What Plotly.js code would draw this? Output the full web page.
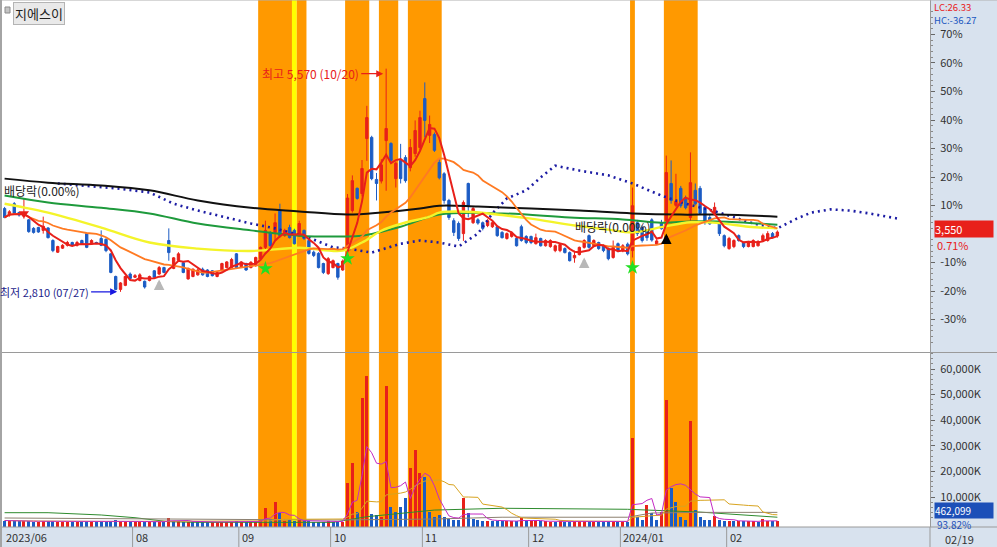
<!DOCTYPE html>
<html><head><meta charset="utf-8">
<script src="https://cdn.plot.ly/plotly-3.0.1.min.js"></script>
<style>html,body{margin:0;padding:0;background:#fff;overflow:hidden}#chart{width:997px;height:547px}</style>
</head><body><div id="chart"></div>
<script>
// ---------------- DATA ----------------
const stockName = '지에스이';
const monthLabels = ['2023/06','08','09','10','11','12','2024/01','02'];
const monthStartIdx = [0, 27, 49, 68, 87, 109, 128, 150];
const lastDateLabel = '02/19';
const highDateLabel = '10/20';
const lowDateLabel = '07/27';

const openP = [
3840,3760,3900,3790,3745,3700,3595,3605,3570,3600,
3445,3300,3350,3385,3420,3385,3445,3530,3405,3420,
3470,3460,3280,3000,2840,2890,3030,2990,2950,2940,
2950,3070,3030,3110,3445,3100,3200,3170,2970,3000,
3020,3090,3080,3070,3000,3075,3110,3110,3280,3120,
3160,3110,3135,3220,3360,3545,3545,3815,3505,3605,
3570,3505,3570,3445,3300,3285,3160,3035,3110,3160,
3080,3320,3815,4090,4025,4705,4720,4200,4180,4680,
4645,4210,4435,4470,4345,4520,4595,5200,4745,4755,
4410,4270,3940,3690,3655,3530,4150,3665,3700,3665,
3630,3615,3615,3545,3470,3495,3470,3615,3495,3495,
3405,3470,3380,3370,3320,3320,3345,3295,3230,3270,
3360,3505,3380,3420,3380,3345,3235,3405,3320,3400,
3320,3665,3605,3560,3700,3400,3665,3690,4150,3880,
4090,3975,3730,4065,4090,3855,3730,3780,3665,3505,
3345,3370,3505,3420,3370,3370,3380,3445,3445,3530,
3500];
const highP = [
3860,3820,3920,3800,3960,3710,3610,3615,3740,3610,
3460,3380,3400,3440,3430,3440,3455,3540,3460,3430,
3570,3470,3290,3010,2930,3010,3050,3030,3040,2950,
3010,3080,3130,3120,3595,3240,3300,3180,3110,3100,
3100,3110,3090,3080,3060,3170,3190,3230,3290,3190,
3170,3190,3245,3370,3690,3560,3780,3900,3590,3640,
3590,3690,3580,3460,3320,3300,3170,3240,3210,3170,
3210,4020,4250,4100,4440,5110,4740,4280,4450,5570,
4660,4420,4640,4500,4700,4930,5050,5400,4990,4780,
4450,4290,3960,3720,3680,3940,4160,3860,3720,3680,
3710,3690,3630,3560,3545,3560,3480,3640,3510,3505,
3530,3480,3460,3460,3395,3410,3360,3310,3320,3370,
3460,3520,3460,3430,3395,3360,3445,3420,3400,3420,
4100,3700,3630,3580,3720,3460,3700,4495,4435,4270,
4120,4000,4535,4150,4120,3870,3760,3915,3680,3520,
3490,3460,3520,3430,3440,3460,3450,3530,3560,3550,
3570];
const lowP = [
3720,3740,3770,3740,3715,3540,3530,3540,3530,3470,
3300,3290,3340,3370,3375,3370,3395,3350,3390,3400,
3375,3300,3040,2830,2810,2880,2960,2980,2940,2850,
2940,2980,3020,3040,3195,3090,3190,3040,2960,2990,
3010,3010,2990,3000,2990,3060,3100,3100,3100,3110,
3070,3100,3120,3210,3320,3370,3445,3480,3490,3470,
3395,3490,3450,3270,3240,3100,3030,3020,3100,2960,
3070,3300,3790,3950,3990,4430,4190,3940,4150,4060,
4400,4100,4150,4160,4300,4480,4560,4720,4650,4540,
4200,3900,3700,3500,3440,3440,3730,3650,3640,3570,
3610,3600,3490,3470,3455,3480,3370,3430,3400,3400,
3395,3370,3370,3355,3300,3300,3285,3185,3170,3260,
3345,3345,3370,3330,3300,3200,3220,3300,3300,3260,
3235,3500,3420,3440,3430,3390,3580,3655,3900,3860,
3850,3830,3690,3880,3760,3640,3640,3760,3500,3360,
3330,3350,3430,3350,3360,3360,3370,3430,3430,3470,
3480];
const closeP = [
3730,3800,3780,3760,3790,3555,3545,3550,3620,3480,
3320,3370,3385,3420,3385,3420,3405,3360,3445,3410,
3385,3320,3050,2840,2920,3000,2975,3010,3020,2870,
3000,2990,3110,3050,3295,3230,3280,3050,3100,3090,
3080,3020,3000,3010,3050,3160,3180,3210,3110,3180,
3080,3175,3235,3360,3570,3380,3665,3505,3570,3480,
3405,3655,3470,3285,3260,3110,3050,3220,3195,2990,
3190,3970,4185,3965,4335,4965,4210,4150,4380,4830,
4435,4400,4210,4185,4595,4805,4965,4930,4880,4560,
4220,3940,3730,3545,3470,3915,3875,3840,3660,3595,
3690,3665,3505,3480,3530,3540,3380,3445,3420,3420,
3480,3380,3445,3445,3380,3395,3295,3195,3260,3360,
3445,3360,3445,3345,3320,3220,3360,3320,3380,3280,
3875,3530,3445,3480,3450,3440,3590,4285,3940,3930,
3875,3850,4160,3900,3780,3665,3650,3855,3530,3380,
3470,3445,3445,3370,3420,3445,3430,3505,3530,3480,
3550];
const volume = [
820000,650000,540000,480000,760000,610000,420000,380000,520000,450000,
690000,400000,310000,350000,290000,330000,270000,480000,360000,250000,
410000,520000,640000,880000,720000,560000,390000,300000,340000,370000,
310000,280000,360000,420000,1950000,780000,520000,430000,380000,300000,
270000,260000,280000,240000,230000,350000,320000,380000,450000,310000,
260000,290000,420000,1050000,5650000,1350000,8150000,3850000,620000,880000,
710000,1150000,520000,450000,380000,420000,360000,480000,330000,400000,
380000,15400000,23300000,4100000,48500000,57200000,3300000,3000000,2300000,53500000,
6100000,4100000,6100000,9500000,21300000,28400000,19300000,17800000,4200000,2200000,
3000000,2200000,1500000,900000,1200000,9500000,3700000,1500000,1200000,800000,
800000,750000,650000,550000,600000,500000,560000,1800000,700000,520000,
600000,450000,480000,420000,390000,450000,380000,420000,600000,500000,
520000,480000,360000,330000,300000,450000,700000,380000,420000,350000,
33000000,2200000,1200000,6900000,3700000,900000,4100000,47800000,13500000,8000000,
2200000,1200000,39700000,4900000,2200000,1200000,900000,2600000,1000000,800000,
600000,550000,500000,450000,520000,480000,430000,1400000,600000,492538,
462099];

// long moving averages (index, price)
const ma60Idx = [0,3,9,20,30,40,51,61,70,74,78,82,88,90,96,103,109,118,125,130,136,142,148,154,160];
const ma60Val = [3900,3865,3790,3605,3420,3345,3315,3355,3320,3420,3565,3650,3740,3790,3800,3760,3715,3630,3580,3545,3610,3670,3660,3615,3595];
const ma120Idx = [0,9,20,30,40,51,61,70,74,82,90,103,117,128,136,142,148,160];
const ma120Val = [4000,3915,3850,3780,3655,3570,3505,3495,3505,3615,3765,3780,3730,3705,3665,3680,3680,3640];
const ma240Idx = [0,9,20,30,40,51,61,71,78,86,90,98,109,119,130,140,148,160];
const ma240Val = [4210,4160,4125,4065,3940,3850,3805,3765,3790,3840,3875,3865,3840,3815,3780,3765,3765,3740];
const spanIdx = [11,23,30,35,40,47,51,56,63,68,71,76,82,86,90,94,96,98,101,104,108,111,114,119,125,130,136,141,148,155,160,164,167,171,175,179,185];
const spanVal = [4150,4090,4040,3900,3815,3715,3655,3595,3480,3360,3345,3295,3405,3445,3420,3370,3445,3530,3780,3965,4065,4225,4370,4310,4250,4150,4000,3900,3790,3655,3595,3715,3790,3830,3815,3780,3715];

// volume long averages
const volMaAIdx = [0,9,20,27,34,40,68,75,89,103,129,134,144,160];
const volMaAVal = [3870000,3870000,2970000,1910000,350000,100000,100000,2300000,4900000,5600000,5200000,4900000,4100000,2100000];
const volMaBIdx = [0,34,68,89,103,129,134,144,160];
const volMaBVal = [1800000,1300000,1000000,1400000,2100000,2100000,3750000,4000000,4000000];

// highlighted signal periods
const bandStart = [53,60,61,71,78,84,130,137];
const bandEnd   = [59,60,62,75,81,90,130,143];
const bandKind  = ['o','y','o','o','o','o','o','o'];

// signal markers
const starIdx = [54,71,130];       const starPrice = [3098,3222,3110];
const grayArrowIdx = [32,120];     const grayArrowPrice = [2962,3234];
const blackArrowIdx = [137];       const blackArrowPrice = [3531];
const redTriIdx = [4];             const redTriPrice = [3778];

// reference price for % scale & events
const pctBase = 3525;
const pctTicks = [-30,-20,-10,10,20,30,40,50,60,70];
const volTicks = [10000000,20000000,30000000,40000000,50000000,60000000];
const exDivIdx = [126];  const exDivPrice = [3617];
const exDivEarlyPrice = 4063;

// ---------------- BUILD ----------------
const F = 'Noto Sans CJK KR, Noto Sans, sans-serif';
const RED = '#e8201a', BLUE = '#1c5cc4';
const n = closeP.length;
const idx = closeP.map((_, i) => i);
function sma(arr, k){ return arr.map((_, i) => { const s = Math.max(0, i-k+1); let t=0; for(let j=s;j<=i;j++) t+=arr[j]; return t/(i-s+1); }); }
const ma5 = sma(closeP,5), ma20 = sma(closeP,20);
const vma5 = sma(volume,5), vma20 = sma(volume,20);
const fmt = v => Math.round(v).toLocaleString('en-US');

const PRICE_RANGE = [2066, 6419];
const VOL_RANGE = [-1720000, 66250000];
const PH = 527, PW = 927;

const volColors = volume.map((_, i) => (i === 0 ? closeP[0] >= openP[0] : closeP[i] >= closeP[i-1]) ? RED : BLUE);

const traces = [];
traces.push({type:'candlestick', x: idx, open: openP, high: highP, low: lowP, close: closeP,
  increasing:{line:{color:RED,width:1}, fillcolor:RED}, decreasing:{line:{color:BLUE,width:1}, fillcolor:BLUE},
  whiskerwidth:0, hoverinfo:'skip', xaxis:'x', yaxis:'y'});
traces.push({type:'scatter', mode:'lines', x: spanIdx, y: spanVal, line:{color:'#1c1ca4', width:2.6, dash:'2px,4px'}, xaxis:'x', yaxis:'y'});
traces.push({type:'scatter', mode:'lines', x: ma240Idx, y: ma240Val, line:{color:'#111111', width:2, shape:'spline'}, xaxis:'x', yaxis:'y'});
traces.push({type:'scatter', mode:'lines', x: ma120Idx, y: ma120Val, line:{color:'#1e9a3c', width:2, shape:'spline'}, xaxis:'x', yaxis:'y'});
traces.push({type:'scatter', mode:'lines', x: ma60Idx, y: ma60Val, line:{color:'#f4f42a', width:2.4, shape:'spline'}, xaxis:'x', yaxis:'y'});
traces.push({type:'scatter', mode:'lines', x: idx, y: ma20, line:{color:'#ff7a22', width:1.8}, xaxis:'x', yaxis:'y'});
traces.push({type:'scatter', mode:'lines', x: idx, y: ma5, line:{color:RED, width:2}, xaxis:'x', yaxis:'y'});
traces.push({type:'scatter', mode:'markers', x: starIdx, y: starPrice, marker:{symbol:'star', size:11, color:'#22e022'}, xaxis:'x', yaxis:'y'});
traces.push({type:'scatter', mode:'markers', x: redTriIdx, y: redTriPrice, marker:{symbol:'triangle-down', size:9, color:RED}, xaxis:'x', yaxis:'y'});
// volume pane
traces.push({type:'bar', x: idx, y: volume.map(v => v - VOL_RANGE[0]), base: VOL_RANGE[0], width:0.62,
  marker:{color: volColors, line:{width:0}}, hoverinfo:'skip', xaxis:'x', yaxis:'y2'});
traces.push({type:'scatter', mode:'lines', x: volMaAIdx, y: volMaAVal, line:{color:'#2e8b2e', width:1}, xaxis:'x', yaxis:'y2'});
traces.push({type:'scatter', mode:'lines', x: volMaBIdx, y: volMaBVal, line:{color:'#8c8070', width:1}, xaxis:'x', yaxis:'y2'});
traces.push({type:'scatter', mode:'lines', x: idx, y: vma20, line:{color:'#d8a420', width:1}, xaxis:'x', yaxis:'y2'});
traces.push({type:'scatter', mode:'lines', x: idx, y: vma5, line:{color:'#c42ac4', width:1}, xaxis:'x', yaxis:'y2'});

// shapes
const shapes = [];
bandStart.forEach((s, k) => shapes.push({type:'rect', xref:'x', yref:'paper', x0:s-0.5, x1:bandEnd[k]+0.5, y0:0, y1:1,
  fillcolor: bandKind[k]==='y' ? '#ffff00' : '#ff9900', line:{width:0}, layer:'below'}));
const yb = -20/PH;
shapes.push({type:'rect', xref:'paper', yref:'paper', x0:1, x1:1+67/PW, y0:yb, y1:1, fillcolor:'#d8e2ee', line:{width:0}, layer:'below'});
shapes.push({type:'rect', xref:'paper', yref:'paper', x0:-3/PW, x1:1, y0:yb, y1:0, fillcolor:'#d8e2ee', line:{width:0}, layer:'below'});
shapes.push({type:'line', xref:'paper', yref:'paper', x0:-3/PW, x1:1+67/PW, y0:(PH-352.5)/PH, y1:(PH-352.5)/PH, line:{color:'#9a9a9a', width:1}});
shapes.push({type:'line', xref:'paper', yref:'paper', x0:-3/PW, x1:1+67/PW, y0:0, y1:0, line:{color:'#9a9a9a', width:1}});
shapes.push({type:'line', xref:'paper', yref:'paper', x0:-3/PW, x1:1+67/PW, y0:1, y1:1, line:{color:'#b0b0b0', width:1}});
shapes.push({type:'rect', xref:'paper', yref:'paper', x0:-3/PW, x1:-1/PW, y0:yb, y1:1, fillcolor:'#a4a4a4', line:{width:0}});
shapes.push({type:'line', xref:'paper', yref:'paper', x0:1, x1:1, y0:yb, y1:0, line:{color:'#9a9a9a', width:1}});
monthStartIdx.forEach(m => shapes.push({type:'line', xref:'x', yref:'paper', x0:m-0.5, x1:m-0.5, y0:yb, y1:0, line:{color:'#9a9a9a', width:1}}));
shapes.push({type:'rect', xref:'paper', yref:'paper', x0:2/PW, x1:7/PW, y0:(PH-13)/PH, y1:(PH-7)/PH, fillcolor:'#c4c4c4', line:{color:'#8a8a8a', width:1}});

// annotations
const ann = [];
ann.push({xref:'paper', yref:'paper', x:10/PW, y:1, xanchor:'left', yanchor:'top', yshift:-2, text:stockName, showarrow:false,
  bgcolor:'#e9e9e9', bordercolor:'#b4b4b4', borderwidth:1, borderpad:1, font:{family:F, size:13, color:'#222'}});
const hiVal = Math.max(...highP), hiIdx = highP.indexOf(hiVal);
const loVal = Math.min(...lowP), loIdx = lowP.indexOf(loVal);
ann.push({xref:'x', yref:'y', x:hiIdx-0.4, y:hiVal, yshift:-5, text:`최고 ${fmt(hiVal)} (${highDateLabel})`, showarrow:true,
  ax:-23, ay:0, xanchor:'right', arrowcolor:RED, arrowhead:2, arrowsize:1, arrowwidth:1.4, standoff:1, font:{family:F, size:12, color:RED}});
ann.push({xref:'x', yref:'y', x:loIdx-0.5, y:loVal, text:`최저 ${fmt(loVal)} (${lowDateLabel})`, showarrow:true,
  ax:-27, ay:0, xanchor:'right', arrowcolor:'#1818e0', arrowhead:2, arrowsize:1, arrowwidth:1.4, standoff:1, font:{family:F, size:11, color:'#1c1c8a'}});
// gray / black signal arrows (block arrows)
grayArrowIdx.forEach((x, k) => ann.push({xref:'x', yref:'y', x:x, y:grayArrowPrice[k], text:'', showarrow:true, ax:0, ay:12,
  arrowcolor:'#b8b8b8', arrowhead:2, arrowsize:0.7, arrowwidth:3, standoff:0, startstandoff:0}));
blackArrowIdx.forEach((x, k) => ann.push({xref:'x', yref:'y', x:x, y:blackArrowPrice[k], text:'', showarrow:true, ax:0, ay:12,
  arrowcolor:'#000000', arrowhead:2, arrowsize:0.7, arrowwidth:3, standoff:0, startstandoff:0}));
ann.push({xref:'paper', yref:'y', x:0, y:exDivEarlyPrice, xanchor:'left', xshift:-1, text:'배당락(0.00%)', showarrow:false, font:{family:F, size:12, color:'#222'}});
exDivIdx.forEach((x, k) => ann.push({xref:'x', yref:'y', x:x, y:exDivPrice[k], text:'배당락(0.00%)', showarrow:false, xanchor:'center',
  font:{family:F, size:12, color:'#222'}}));
monthLabels.forEach((t, k) => ann.push({xref: k===0 ? 'paper' : 'x', yref:'paper', x: k===0 ? 0 : monthStartIdx[k]-0.5, y:-10/PH, xanchor:'left', yanchor:'middle', xshift:1,
  text:t, showarrow:false, font:{family:F, size:11, color:'#333'}}));
ann.push({xref:'paper', yref:'paper', x:1, y:-12/PH, xanchor:'left', yanchor:'middle', xshift:14, borderpad:0, text:lastDateLabel, showarrow:false, font:{family:F, size:11, color:'#333'}});
const last = closeP[n-1];
const lc = ((last/loVal - 1)*100).toFixed(2), hc = ((last/hiVal - 1)*100).toFixed(2);
ann.push({xref:'paper', yref:'paper', x:1, y:(PH-6.7)/PH, xanchor:'left', yanchor:'middle', xshift:3, borderpad:0, text:`LC:${lc}`, showarrow:false, font:{family:F, size:9.5, color:RED}});
ann.push({xref:'paper', yref:'paper', x:1, y:(PH-19.6)/PH, xanchor:'left', yanchor:'middle', xshift:3, borderpad:0, text:`HC:${hc}`, showarrow:false, font:{family:F, size:9.5, color:'#1a56c0'}});
ann.push({xref:'paper', yref:'y', x:1, y:last, xanchor:'left', yanchor:'middle', xshift:4, yshift:3, text:fmt(last), showarrow:false, width:58, align:'left',
  bgcolor:'#e8201a', borderpad:0, font:{family:F, size:11, color:'#fff'}});
ann.push({xref:'paper', yref:'y', x:1, y:last, xanchor:'left', yanchor:'middle', xshift:6, yshift:-13, borderpad:0, text:((last/pctBase-1)*100).toFixed(2)+'%', showarrow:false,
  font:{family:F, size:11, color:RED}});
const lastVol = volume[n-1], volRatio = (lastVol/volume[n-2]*100).toFixed(2);
ann.push({xref:'paper', yref:'paper', x:1, y:(PH-510.5)/PH, xanchor:'left', yanchor:'middle', xshift:4, text:fmt(lastVol), showarrow:false, width:58, align:'left',
  bgcolor:'#1c4fb8', borderpad:0, font:{family:F, size:10, color:'#fff'}});
ann.push({xref:'paper', yref:'paper', x:1, y:(PH-524)/PH, xanchor:'left', yanchor:'middle', xshift:6, borderpad:0, text:volRatio+'%', showarrow:false,
  font:{family:F, size:10, color:'#1c4fb8'}});

const minorP = []; for (let p=-40; p<=80; p+=2) if (p%10!==0) minorP.push(pctBase*(1+p/100));
const minorV = []; for (let v=0; v<=66000000; v+=2000000) if (v%10000000!==0) minorV.push(v);

const axisFont = {family:F, size:11, color:'#333'};
const layout = {
  width:997, height:547, margin:{l:3, r:67, t:0, b:20},
  paper_bgcolor:'#ffffff', plot_bgcolor:'#ffffff', showlegend:false, bargap:0,
  xaxis:{range:[-0.33, 191.6], showticklabels:false, showgrid:false, zeroline:false, showline:false, ticks:'', anchor:'y2', rangeslider:{visible:false}, fixedrange:true},
  yaxis:{domain:[(PH-352)/PH, 1], range:PRICE_RANGE, side:'right', anchor:'x', tickmode:'array',
    tickvals:pctTicks.map(p => pctBase*(1+p/100)), ticktext:pctTicks.map(p => p+'%'),
    ticks:'outside', ticklen:4, tickcolor:'#666', showline:true, linecolor:'#9a9a9a', showgrid:false, zeroline:false, tickfont:axisFont, ticklabelstandoff:3,
    minor:{tickmode:'array', tickvals:minorP, ticks:'outside', ticklen:2, tickcolor:'#888', showgrid:false}, fixedrange:true},
  yaxis2:{domain:[0, (PH-353)/PH], range:VOL_RANGE, side:'right', anchor:'x', tickmode:'array',
    tickvals:volTicks, ticktext:volTicks.map(v => fmt(v/1000)+'K'),
    ticks:'outside', ticklen:4, tickcolor:'#666', showline:true, linecolor:'#9a9a9a', showgrid:false, zeroline:false, tickfont:axisFont, ticklabelstandoff:3,
    minor:{tickmode:'array', tickvals:minorV, ticks:'outside', ticklen:2, tickcolor:'#888', showgrid:false}, fixedrange:true},
  shapes: shapes, annotations: ann
};
Plotly.newPlot('chart', traces, layout, {staticPlot:true, displayModeBar:false});
</script>
</body></html>
